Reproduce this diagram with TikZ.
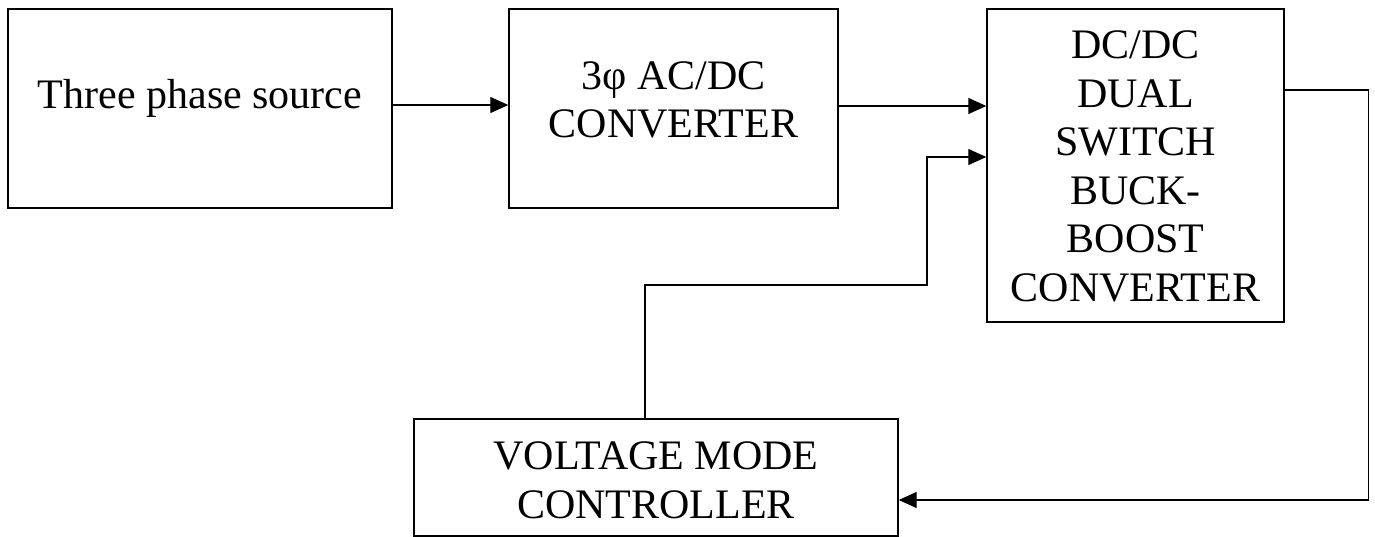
\documentclass[tikz,border=0pt]{standalone}
\usepackage{fontspec}
\setmainfont{Liberation Serif}
\usetikzlibrary{arrows.meta, positioning, calc}
\tikzset{
  blk/.style={draw, line width=1.4pt, minimum width=#1, inner sep=0pt},
  blk/.default=300,
  txt/.style={align=center, inner sep=0pt, font=\fontsize{42}{48.5}\selectfont},
  sig/.style={-{Triangle[length=18pt, width=16pt]}, line width=1.3pt},
}
\begin{document}
\begin{tikzpicture}[x=1pt, y=-1pt]
  \useasboundingbox (0,0) rectangle (1375,537);
  % blocks
  \node[blk=384, minimum height=199] (src)  at (200,108.5)   {};
  \node[blk=329, minimum height=199] (acdc) at (673.5,108.5) {};
  \node[blk=297, minimum height=313] (dcdc) at (1135.5,165.5) {};
  \node[blk=484, minimum height=117] (ctrl) at (656,477.5)   {};
  % texts
  \node[txt] (srctxt)  at (200,98)    {Three phase source};
  \node[txt] (acdctxt) at (673.5,100) {3φ AC/DC\\CONVERTER};
  \node[txt] (dcdctxt) at (1135.5,166.5) {DC/DC\\DUAL\\SWITCH\\BUCK-\\BOOST\\CONVERTER};
  \node[txt] (ctrltxt) at (656,480.5) {VOLTAGE MODE\\CONTROLLER};
  % forward path
  \draw[sig] ([yshift=3.5pt]src.east) -- ([yshift=3.5pt]acdc.west);
  \draw[sig] ([yshift=2.5pt]acdc.east) -- ([yshift=2.5pt]acdc.east -| dcdc.west);
  % feedback loop
  \coordinate (fbL) at (927,285);
  \draw[sig] ([yshift=75.5pt]dcdc.east) -- ++(84,0) |- ([yshift=-22.5pt]ctrl.east);
  \draw[sig] ([xshift=-11pt]ctrl.north) |- (fbL) |- ([yshift=8.5pt]dcdc.west);
\end{tikzpicture}
\end{document}
